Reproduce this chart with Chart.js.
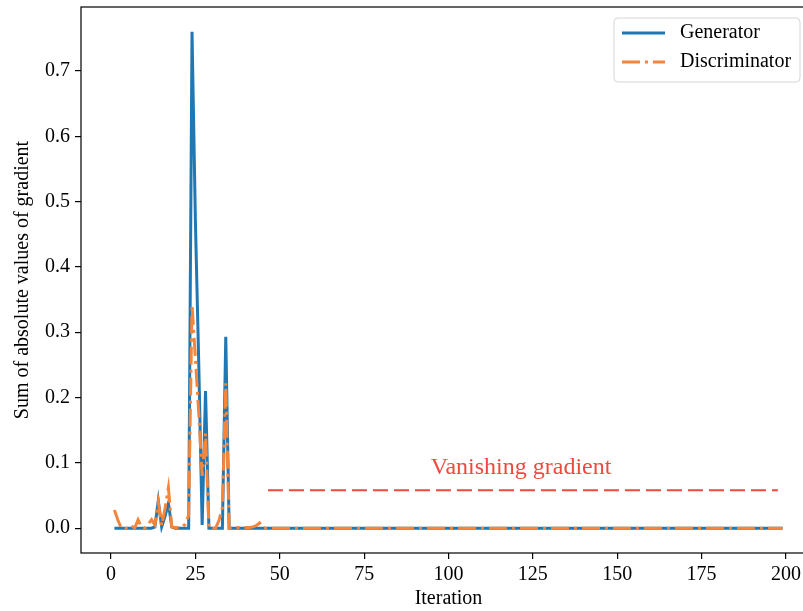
<!DOCTYPE html>
<html>
<head>
<meta charset="utf-8">
<script src="https://cdn.jsdelivr.net/npm/chart.js@4"></script>
<style>
  html, body { margin: 0; padding: 0; background: #fff; overflow: hidden; }
</style>
</head>
<body>
<canvas id="gradChart" width="830" height="611"></canvas>
<script>
// iteration index (x axis)
var iterations = [];
for (var i = 1; i <= 199; i++) iterations.push(i);

// values, one per iteration 1..199
var generator = [
  0, 0, 0, 0, 0, 0, 0, 0, 0, 0,
  0, 0, 0.002, 0.042, 0.002, 0.018, 0.038, 0.002, 0, 0,
  0, 0, 0, 0.76, 0.47, 0.25, 0.005, 0.21, 0, 0,
  0, 0, 0, 0.293, 0, 0, 0, 0, 0, 0,
  0, 0, 0, 0, 0, 0, 0, 0, 0, 0,
  0, 0, 0, 0, 0, 0, 0, 0, 0, 0,
  0, 0, 0, 0, 0, 0, 0, 0, 0, 0,
  0, 0, 0, 0, 0, 0, 0, 0, 0, 0,
  0, 0, 0, 0, 0, 0, 0, 0, 0, 0,
  0, 0, 0, 0, 0, 0, 0, 0, 0, 0,
  0, 0, 0, 0, 0, 0, 0, 0, 0, 0,
  0, 0, 0, 0, 0, 0, 0, 0, 0, 0,
  0, 0, 0, 0, 0, 0, 0, 0, 0, 0,
  0, 0, 0, 0, 0, 0, 0, 0, 0, 0,
  0, 0, 0, 0, 0, 0, 0, 0, 0, 0,
  0, 0, 0, 0, 0, 0, 0, 0, 0, 0,
  0, 0, 0, 0, 0, 0, 0, 0, 0, 0,
  0, 0, 0, 0, 0, 0, 0, 0, 0, 0,
  0, 0, 0, 0, 0, 0, 0, 0, 0, 0,
  0, 0, 0, 0, 0, 0, 0, 0, 0
];

var discriminator = [
  0.028, 0.013, 0, 0, 0, 0.004, 0, 0.013, 0.002, 0,
  0.006, 0.013, 0.005, 0.04, 0.004, 0.03, 0.062, 0.002, 0.001, 0.001,
  0.002, 0.006, 0.02, 0.342, 0.26, 0.175, 0.08, 0.145, 0, 0,
  0, 0.012, 0.032, 0.222, 0, 0.001, 0.001, 0.001, 0.001, 0.001,
  0.001, 0.002, 0.004, 0.008, 0.001, 0, 0, 0, 0, 0,
  0, 0, 0, 0, 0, 0, 0, 0, 0, 0,
  0, 0, 0, 0, 0, 0, 0, 0, 0, 0,
  0, 0, 0, 0, 0, 0, 0, 0, 0, 0,
  0, 0, 0, 0, 0, 0, 0, 0, 0, 0,
  0, 0, 0, 0, 0, 0, 0, 0, 0, 0,
  0, 0, 0, 0, 0, 0, 0, 0, 0, 0,
  0, 0, 0, 0, 0, 0, 0, 0, 0, 0,
  0, 0, 0, 0, 0, 0, 0, 0, 0, 0,
  0, 0, 0, 0, 0, 0, 0, 0, 0, 0,
  0, 0, 0, 0, 0, 0, 0, 0, 0, 0,
  0, 0, 0, 0, 0, 0, 0, 0, 0, 0,
  0, 0, 0, 0, 0, 0, 0, 0, 0, 0,
  0, 0, 0, 0, 0, 0, 0, 0, 0, 0,
  0, 0, 0, 0, 0, 0, 0, 0, 0, 0,
  0, 0, 0, 0, 0, 0, 0, 0, 0
];

// "Vanishing gradient" marker line
var vanishX = [46.5, 197.6];
var vanishY = [0.058, 0.058];
var vanishText = 'Vanishing gradient';
var vanishTextPos = { x: 121.5, y: 0.093 };

var xTicks = [0, 25, 50, 75, 100, 125, 150, 175, 200];
var yTicks = [0, 0.1, 0.2, 0.3, 0.4, 0.5, 0.6, 0.7];

var seriesNames = ['Generator', 'Discriminator'];
var BLUE = '#1f77b4';
var ORANGE = '#f5853a';
var RED = '#f0483c';
var SERIF = "'Liberation Serif', 'DejaVu Serif', serif";

function toPoints(xs, ys) {
    return xs.map(function (x, k) { return { x: x, y: ys[k] }; });
}

// box around the plot, like matplotlib spines
var framePlugin = {
    id: 'frame',
    afterDraw: function (chart) {
        var a = chart.chartArea, ctx = chart.ctx;
        ctx.save();
        ctx.strokeStyle = '#000';
        ctx.lineWidth = 1.2;
        ctx.strokeRect(a.left, a.top, a.right - a.left, a.bottom - a.top);
        ctx.restore();
    }
};

// text label + legend box
var notePlugin = {
    id: 'notes',
    afterDraw: function (chart) {
        var ctx = chart.ctx;
        var xs = chart.scales.x, ys = chart.scales.y;
        ctx.save();
        ctx.fillStyle = RED;
        ctx.font = '24px ' + SERIF;
        ctx.textAlign = 'center';
        ctx.textBaseline = 'middle';
        ctx.fillText(vanishText, xs.getPixelForValue(vanishTextPos.x), ys.getPixelForValue(vanishTextPos.y));

        // legend
        var bx = 614, by = 18, bw = 186, bh = 64;
        ctx.beginPath();
        ctx.roundRect(bx, by, bw, bh, 4);
        ctx.fillStyle = 'rgba(255,255,255,0.8)';
        ctx.fill();
        ctx.strokeStyle = '#d6d6d6';
        ctx.lineWidth = 1;
        ctx.stroke();

        var rows = [
            { y: 33, color: BLUE, dash: [] },
            { y: 62, color: ORANGE, dash: [18, 5, 3, 5] }
        ];
        rows.forEach(function (r, k) {
            ctx.beginPath();
            ctx.setLineDash(r.dash);
            ctx.strokeStyle = r.color;
            ctx.lineWidth = 3;
            ctx.moveTo(622, r.y);
            ctx.lineTo(665, r.y);
            ctx.stroke();
            ctx.setLineDash([]);
            ctx.fillStyle = '#000';
            ctx.font = '20px ' + SERIF;
            ctx.textAlign = 'left';
            ctx.textBaseline = 'middle';
            ctx.fillText(seriesNames[k], 680, r.y);
        });
        ctx.restore();
    }
};

var gradConfig = {
    type: 'line',
    data: {
        datasets: [{
            label: seriesNames[0],
            data: toPoints(iterations, generator),
            borderColor: BLUE,
            borderWidth: 3,
            pointRadius: 0,
            order: 3,
        }, {
            label: seriesNames[1],
            data: toPoints(iterations, discriminator),
            borderColor: ORANGE,
            borderWidth: 3,
            borderDash: [18, 5, 3, 5],
            pointRadius: 0,
            order: 2,
        }, {
            label: 'vanishing',
            data: toPoints(vanishX, vanishY),
            borderColor: RED,
            borderWidth: 2,
            borderDash: [15, 6],
            pointRadius: 0,
            order: 1,
        }]
    },
    options: {
        responsive: false,
        animation: false,
        layout: { padding: { top: 7, right: 14, left: 0, bottom: 0 } },
        plugins: {
            legend: { display: false },
            tooltip: { enabled: false }
        },
        scales: {
            x: {
                type: 'linear',
                min: -8.9,
                max: 208.9,
                afterBuildTicks: function (axis) {
                    axis.ticks = xTicks.map(function (v) { return { value: v }; });
                },
                afterFit: function (axis) {
                    axis.height = 58;
                    axis.paddingLeft = 0;
                    axis.paddingRight = 0;
                },
                ticks: {
                    color: '#000',
                    font: { family: SERIF, size: 20 },
                    padding: 4,
                    maxRotation: 0,
                    callback: function (v) { return String(v); }
                },
                grid: { display: true, drawOnChartArea: false, drawTicks: true, tickLength: 6, color: '#000', lineWidth: 1.2 },
                border: { display: false },
                title: {
                    display: true,
                    text: 'Iteration',
                    color: '#000',
                    font: { family: SERIF, size: 20 },
                    padding: { top: 0, bottom: 0 }
                }
            },
            y: {
                type: 'linear',
                min: -0.038,
                max: 0.798,
                afterBuildTicks: function (axis) {
                    axis.ticks = yTicks.map(function (v) { return { value: v }; });
                },
                afterFit: function (axis) {
                    axis.width = 81;
                    axis.paddingTop = 0;
                    axis.paddingBottom = 0;
                },
                ticks: {
                    color: '#000',
                    font: { family: SERIF, size: 20 },
                    padding: 5,
                    callback: function (v) { return Number(v).toFixed(1); }
                },
                grid: { display: true, drawOnChartArea: false, drawTicks: true, tickLength: 6, color: '#000', lineWidth: 1.2 },
                border: { display: false },
                title: {
                    display: true,
                    text: 'Sum of absolute values of gradient',
                    color: '#000',
                    font: { family: SERIF, size: 20 },
                    padding: { top: 11, bottom: 0 }
                }
            }
        }
    },
    plugins: [framePlugin, notePlugin]
};

var gradChart = new Chart(document.getElementById('gradChart'), gradConfig);
</script>
</body>
</html>
